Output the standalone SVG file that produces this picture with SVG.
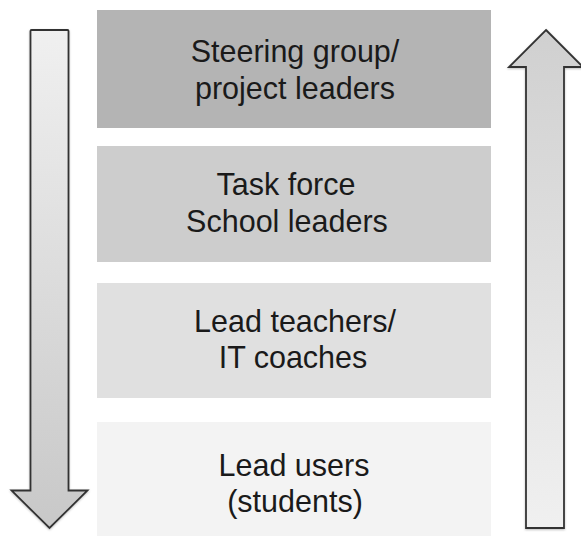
<svg xmlns="http://www.w3.org/2000/svg" width="581" height="536" viewBox="0 0 581 536">
  <defs>
    <linearGradient id="gDown" x1="0" y1="0" x2="0" y2="1">
      <stop offset="0" stop-color="#f0f0f0"/>
      <stop offset="1" stop-color="#c8c8c8"/>
    </linearGradient>
    <linearGradient id="gUp" x1="0" y1="1" x2="0" y2="0">
      <stop offset="0" stop-color="#f0f0f0"/>
      <stop offset="1" stop-color="#d0d0d0"/>
    </linearGradient>
    <filter id="sh" x="-20%" y="-5%" width="140%" height="110%">
      <feDropShadow dx="0" dy="1" stdDeviation="1" flood-color="#000" flood-opacity="0.25"/>
    </filter>
  </defs>
  <style>
    text { font-family: "Liberation Sans", Arial, Helvetica, sans-serif; font-size: 30.5px; fill: #1a1a1a; text-anchor: middle; }
    .arrow { stroke: #333333; stroke-width: 1.8; stroke-linejoin: miter; filter: url(#sh); }
  </style>
  <rect width="581" height="536" fill="#ffffff"/>

  <g id="node-steering">
    <rect x="97" y="10" width="394" height="118" fill="#b4b4b4"/>
    <text x="295" y="62">Steering group/</text>
    <text x="295" y="99">project leaders</text>
  </g>
  <g id="node-taskforce">
    <rect x="97" y="146" width="394" height="116" fill="#cdcdcd"/>
    <text x="286" y="195">Task force</text>
    <text x="287" y="232">School leaders</text>
  </g>
  <g id="node-leadteachers">
    <rect x="97" y="283" width="394" height="115" fill="#e0e0e0"/>
    <text x="295" y="332">Lead teachers/</text>
    <text x="293" y="368">IT coaches</text>
  </g>
  <g id="node-leadusers">
    <rect x="97" y="422" width="394" height="116" fill="#f3f3f3"/>
    <text x="294" y="476">Lead users</text>
    <text x="295" y="512">(students)</text>
  </g>

  <g id="connectors">
    <path class="arrow" fill="url(#gDown)" d="M30.5,31 Q30.5,30 31.5,30 L67.5,30 Q68.5,30 68.5,31 L68.5,490.5 L87.5,490.5 L49.5,528 L11.5,490.5 L30.5,490.5 Z"/>
    <path class="arrow" fill="url(#gUp)" d="M546,30 L583,67 L564,67 L564,528 L526,528 L526,67 L509,67 Z"/>
  </g>
</svg>
